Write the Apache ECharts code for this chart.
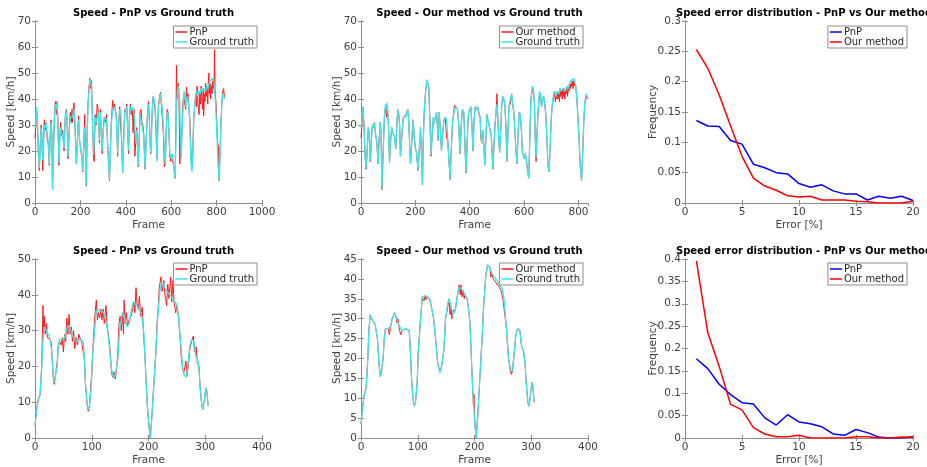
<!DOCTYPE html>
<html><head><meta charset="utf-8">
<script src="https://cdn.jsdelivr.net/npm/echarts@6/dist/echarts.min.js"></script>
<style>html,body{margin:0;padding:0;background:#fff}#c{width:927px;height:467px}</style>
</head><body><div id="c"></div>
<script>
// ---------------- DATA ----------------
// Top row: sequence 1 (frame, speed km/h)
const gtTop = [[0,29],[4,33],[7,37],[11,30],[15,18],[19,13.5],[23,21],[27,29],[30,27],[34,16.5],[38,24],[42,30],[46,29],[49,31],[53,27],[58,24],[63,15],[67,25],[71,31],[74,26],[77,5],[81,18],[86,33],[90,38],[94,36],[97,38.5],[101,30],[105,15.5],[109,24],[113,29],[117,27],[122,26],[128,21],[132,30],[135,36],[139,34],[142,30],[145,18],[149,24],[153,30],[156,33],[160,33.5],[165,33],[169,35],[172,36],[176,31],[179,22],[182,15],[186,22],[189,28],[192,32],[196,25],[200,21],[204,19.5],[207,16],[210,12.5],[214,20],[219,29],[222,20],[226,7],[229,24],[233,36],[237,42],[242,47.5],[246,46],[249,45],[253,33],[258,18.5],[262,27],[265,33],[269,31],[274,33],[278,35],[281,30],[284,24],[288,35],[292,28],[296,20],[300,26],[305,32],[310,33],[315,32],[319,25],[323,17],[328,9],[332,20],[336,30],[339,33],[344,36],[350,37],[355,36],[359,31],[364,19],[368,29],[373,36],[378,35],[382,24],[386,11.5],[390,22],[393,30],[396,35],[400,36],[404,37],[408,30],[412,20],[416,32],[420,37],[425,36],[429,37],[434,37],[438,33],[441,27],[444,23],[448,28],[452,22],[455,14.5],[459,24],[463,34],[467,32],[471,30],[475,30],[479,26],[482,20],[485,13],[489,22],[493,30],[497,35],[500,38],[504,31],[507,24],[510,19.5],[514,28],[517,36],[521,41],[525,40],[529,38],[533,30],[537,16],[541,28],[544,37],[549,40],[554,42],[558,38],[562,35],[566,28],[570,20],[574,15],[578,27],[582,35],[586,34],[590,28],[594,19],[598,18],[601,17],[605,19],[609,16],[613,12],[617,9.5],[621,25],[625,40],[630,45],[634,44],[638,38],[641,25],[644,17.5],[648,28],[652,36],[656,43],[660,42],[664,37],[668,40],[672,41],[676,38],[680,34],[684,24],[688,14],[692,12],[696,22],[700,33],[704,38],[708,42],[712,43],[717,41],[722,43],[727,42],[732,44],[737,43],[742,44],[747,44],[752,43],[757,45],[762,44],[767,46],[772,47],[777,47.5],[782,48],[786,47],[790,45],[794,40],[798,33],[802,25],[806,15],[811,8.5],[815,18],[819,30],[823,38],[827,42],[831,41],[835,40]];
const pnpTop = [[0,25],[4,30],[7,36],[11,31],[15,19],[19,12.5],[23,22],[27,30],[30,26],[34,12.5],[38,25],[41,32],[46,28],[49,31],[53,25],[58,23],[63,14.5],[67,27],[71,32],[74,27],[77,5.5],[81,20],[86,35],[90,39],[94,34],[97,39],[101,32],[105,14.5],[109,25],[113,31],[117,26],[122,28],[128,20],[132,31],[135,35],[139,36],[142,29],[145,17],[149,25],[153,32],[156,35],[160,31],[163,36],[165,31],[169,37],[172,38.5],[176,30],[179,23],[182,15],[186,23],[189,29],[192,33.5],[196,24],[200,22],[204,19],[207,17],[210,12],[214,21],[219,34],[222,21],[226,6.5],[229,25],[233,37],[237,44],[242,48],[246,44],[249,47],[253,31],[258,17],[261,16],[265,34],[269,30],[274,38],[278,36],[281,29],[284,23],[288,36],[292,27],[296,19],[300,28],[305,33],[310,31],[315,34],[319,24],[323,18],[328,8.5],[332,21],[336,31],[339,35],[342,39.5],[346,36],[350,38],[355,35],[359,33],[364,18],[368,30],[373,37],[378,36.5],[382,23],[386,11.5],[390,23],[393,31],[396,36],[400,35],[404,38],[408,29],[412,19],[416,33],[420,38],[425,34],[429,36],[432,27],[436,36],[440,18],[444,24],[448,29],[452,21],[455,14],[459,25],[463,35],[467,36],[471,31],[475,30],[479,27],[482,19],[485,13],[489,23],[493,31],[497,36],[500,39],[504,32],[507,23],[510,19],[514,30],[517,37],[521,41],[525,41],[529,36],[533,28],[537,17],[541,30],[544,38],[549,41],[553,42.5],[558,36],[562,36],[566,26],[570,14],[574,16],[578,28],[582,36],[586,35],[590,27],[594,18],[598,16],[601,18.5],[605,18],[609,15],[613,13],[617,9.5],[621,30],[623,53],[626,40],[630,46],[634,43],[638,15],[641,26],[644,18],[648,30],[652,39],[656,41],[660,38],[664,36],[667,44.5],[670,40],[674,42],[678,37],[682,32],[686,22],[690,13.5],[694,15],[698,30],[702,36],[705,39],[708,41],[711,37],[714,45],[717,40],[720,36],[723,34],[726,43],[729,38],[732,45],[735,40],[738,36],[741,44],[743,33.5],[746,42],[749,39],[752,46],[755,41],[758,44],[761,38],[764,47],[766,50],[768,42],[771,46],[774,40],[777,45],[780,42],[783,47],[786,44],[789,46],[791,59],[793,44],[796,40],[799,36],[802,28],[805,23],[808,22],[811,8.5],[815,19],[819,31],[823,38],[827,43],[831,44],[835,40]];
const ourTop = [[0,25],[4,31],[7,37],[11,30],[15,18],[19,13],[23,21],[27,29],[30,27],[34,16],[38,24],[42,30],[46,29],[49,31],[53,27],[58,23.5],[63,15],[67,25],[71,31],[74,26],[77,5],[81,18],[86,33],[90,37],[94,33],[97,37],[101,30],[105,15.5],[109,24],[113,29],[117,27],[122,26],[128,21],[132,30],[135,36],[139,34],[142,30],[145,18],[149,24],[153,30],[156,33],[160,33],[163,32.5],[165,34],[169,35],[172,36],[176,31],[179,22],[182,15],[186,22],[189,28],[192,32],[196,25],[200,21],[204,19.5],[207,16],[210,12.5],[214,20],[219,29],[222,20],[226,7],[229,24],[233,36],[237,42],[242,47],[246,46],[249,45],[253,33],[258,18],[262,27],[265,30],[269,31],[274,33],[278,35],[281,29],[284,24],[288,35],[292,28],[296,20],[300,26],[305,32],[310,33],[315,25],[319,24],[323,17],[328,9],[332,20],[336,30],[339,33],[344,37.5],[350,37],[355,36],[359,31],[364,19],[368,29],[373,36],[378,35],[382,24],[386,11.5],[390,22],[393,30],[396,35],[400,36],[404,37],[408,30],[412,20],[416,32],[420,37],[425,36],[429,37],[434,34],[438,33],[441,25],[444,23],[448,28],[452,22],[455,14.5],[459,24],[463,34],[467,32],[471,30],[475,30],[479,26],[482,20],[485,13],[489,22],[493,30],[497,35],[500,42],[504,31],[507,24],[510,19.5],[514,28],[517,36],[521,41],[525,40],[529,38],[533,30],[537,16],[541,28],[544,37],[549,38],[554,42],[558,38],[562,35],[566,28],[570,20],[574,15],[578,27],[582,35],[586,34],[590,28],[594,19],[598,18],[601,17],[605,19],[609,16],[613,12],[617,9.5],[621,25],[625,40],[630,43],[634,44],[638,38],[641,25],[644,16],[648,28],[652,36],[656,41],[660,42],[664,37],[668,40],[672,41],[676,38],[680,34],[684,24],[688,14],[692,12],[696,22],[700,33],[704,38],[708,40],[712,43],[715,39],[717,41],[720,40],[722,43],[725,40],[727,42],[730,39],[732,44],[735,41],[737,43],[740,40],[742,44],[745,41],[747,44],[750,40],[752,43],[755,42],[757,45],[760,41],[762,44],[765,43],[767,46],[770,44],[772,46],[775,45],[777,47],[780,44],[782,47],[784,45],[786,46],[790,45],[794,40],[798,33],[802,25],[806,15],[811,8.5],[815,18],[819,30],[823,38],[827,40],[831,41],[835,40]];

// Bottom row: sequence 2 (frame, speed km/h)
const gtBot = [[0,3.5],[3,8],[6,11],[9,12.5],[12,20],[14,27],[16,31],[21,29.5],[25,28.5],[27,28],[29,25],[32,18],[34,15.5],[36,16],[39,20],[41,25],[43,27.5],[48,27.5],[52,28],[55,30],[59,31.5],[62,30.5],[65,29],[68,28],[72,27],[75,27],[79,27.5],[82,28],[85,27],[87,22],[89,15],[92,9.5],[94,8],[96,9],[99,14],[101,22],[105,30],[108,35.5],[113,35.8],[117,35.5],[121,35],[124,33],[128,30],[132,24],[135,19],[139,16.5],[142,18],[146,22],[149,30],[153,34],[155,35],[159,33],[162,31],[166,32],[169,35],[173,38],[176,38.5],[180,37],[183,36],[187,35],[189,33],[192,29],[194,22],[196,15],[198,9],[201,3],[203,0],[206,6],[209,14],[213,24],[216,33],[220,41],[223,43.5],[227,43],[230,41.5],[235,40.5],[240,39.5],[244,38.5],[249,37.5],[252,35],[256,28],[260,20],[263,17.5],[267,17],[269,20],[273,26],[276,27.5],[280,27],[283,23],[287,21.5],[289,19],[291,14],[294,9],[296,8],[298,10],[301,14],[303,13],[305,9]];
const pnpBot = [[0,3.5],[3,8],[6,11],[9,12],[12,21],[14,37],[15,30],[16,34],[18,29],[20,32],[22,28],[25,28.5],[27,27.5],[29,26],[32,17],[34,15],[36,15.5],[39,21],[41,26],[43,27],[46,26],[48,28],[50,24],[52,29],[54,27],[56,33.5],[58,29],[60,34.5],[62,29],[64,31],[66,27],[68,30],[70,25],[72,28],[75,26],[77,29],[79,28],[82,27],[85,27],[87,22],[89,15],[92,9],[94,7.5],[96,9],[99,16],[100,17.5],[102,25],[105,33],[108,38.5],[110,33],[112,35],[114,33.5],[116,36],[118,33],[120,36],[122,32],[125,37],[127,31.5],[130,28],[132,25],[135,18],[137,17],[139,18.5],[141,16.5],[143,18],[146,24],[148,32],[150,34],[152,30],[154,35],[156,29],[157,38.5],[159,32],[161,35],[163,31],[166,33],[169,34],[172,36],[174,38],[176,35],[178,42],[180,37],[182,36],[184,39.5],[186,34],[189,36.5],[191,30],[194,22],[196,15],[198,9],[201,3],[203,0],[206,6],[209,14],[213,24],[215,32],[217,36],[219,42],[222,45],[224,41],[227,44],[229,40],[232,37],[234,43],[236,39],[239,45],[241,38],[243,44],[245,38],[248,35],[250,37],[253,34],[256,27],[258,22],[260,19.5],[262,18],[264,17.5],[266,21.5],[268,17.5],[270,20],[273,25],[276,27],[279,28.5],[281,24],[284,25.5],[286,21],[289,20],[291,14],[294,9],[296,8],[298,10],[301,14],[303,13],[305,9]];
const ourBot = [[0,3.5],[3,8],[6,11],[9,12.5],[12,20],[14,27],[16,31],[18,30],[21,29.5],[25,28.5],[27,28],[29,25],[32,18],[34,15.5],[36,16.5],[39,20],[41,25],[43,27.5],[45,27],[48,27.5],[50,26],[52,28],[55,30],[59,31.5],[62,30.5],[63,29],[65,30],[68,27],[70,26],[72,27],[75,26.5],[79,27.5],[82,28],[85,27],[87,22],[89,15],[92,9.5],[94,8],[96,9],[99,14],[101,22],[105,30],[108,35.5],[111,34.5],[113,35.8],[115,34.8],[117,35.5],[121,35],[124,33],[128,30],[132,24],[135,19],[139,16.5],[142,18],[146,22],[149,30],[153,33],[155,35],[157,31],[159,33],[160,30],[162,32],[166,32],[169,35],[173,38.5],[175,36],[176,38.5],[178,35.5],[180,37],[182,35],[183,36],[187,35],[189,33],[192,29],[194,22],[196,15],[198,8.5],[199,11],[201,3],[203,0],[206,6],[209,14],[213,24],[216,33],[220,41],[223,43.5],[227,43],[229,40.5],[230,41.5],[233,40],[235,40.5],[238,39],[240,39.5],[243,38],[244,38.5],[247,37],[249,37.5],[250,35],[252,35],[256,28],[260,20],[263,17],[265,16],[267,17],[269,20],[273,26],[276,27.5],[280,27],[283,23],[286,22],[287,21.5],[289,19],[291,14],[294,9],[296,8],[298,10],[301,14],[303,13],[305,9]];

// Error distributions (Error [%] bins, frequency)
const errBins = [1,2,3,4,5,6,7,8,9,10,11,12,13,14,15,16,17,18,19,20];
const pnpErrTop = [0.136,0.127,0.126,0.103,0.097,0.064,0.058,0.050,0.048,0.032,0.026,0.030,0.020,0.015,0.015,0.005,0.011,0.008,0.011,0.004];
const ourErrTop = [0.253,0.222,0.178,0.127,0.077,0.041,0.028,0.021,0.012,0.010,0.011,0.005,0.005,0.005,0.003,0.002,0.000,0.000,0.000,0.003];
const pnpErrBot = [0.177,0.155,0.120,0.097,0.079,0.076,0.045,0.029,0.052,0.036,0.032,0.025,0.009,0.006,0.019,0.012,0.002,0.000,0.000,0.003];
const ourErrBot = [0.396,0.235,0.160,0.075,0.063,0.023,0.009,0.003,0.003,0.006,0.000,0.000,0.000,0.000,0.003,0.003,0.000,0.000,0.002,0.001];

const titles = ['Speed - PnP vs Ground truth','Speed - Our method vs Ground truth','Speed error distribution - PnP vs Our method',
                'Speed - PnP vs Ground truth','Speed - Our method vs Ground truth','Speed error distribution - PnP vs Our method'];

// ---------------- LAYOUT ----------------
const FONT = 'DejaVu Sans';
const AX = '#8c8c8c', TXT = '#404040';
const grids = [
  {left:35, top:21, width:227, height:182},
  {left:361, top:21, width:227, height:182},
  {left:685, top:21, width:228, height:182},
  {left:35, top:259, width:227, height:182},
  {left:361, top:259, width:227, height:182},
  {left:685, top:259, width:228, height:182}
];
const xCfg = [
  {min:0,max:1000,interval:200,name:'Frame'},
  {min:0,max:835,interval:200,name:'Frame',hideMax:true},
  {min:0,max:20,interval:5,name:'Error [%]'},
  {min:0,max:400,interval:100,name:'Frame'},
  {min:0,max:400,interval:100,name:'Frame'},
  {min:0,max:20,interval:5,name:'Error [%]'}
];
const yCfg = [
  {min:0,max:70,interval:10,name:'Speed [km/h]',gap:18},
  {min:0,max:70,interval:10,name:'Speed [km/h]',gap:18},
  {min:0,max:0.3,interval:0.05,name:'Frequency',gap:26},
  {min:0,max:50,interval:10,name:'Speed [km/h]',gap:18},
  {min:0,max:45,interval:5,name:'Speed [km/h]',gap:18},
  {min:0,max:0.4,interval:0.05,name:'Frequency',gap:26}
];

const xAxis = [], yAxis = [], title = [];
grids.forEach((g, i) => {
  const xc = xCfg[i], yc = yCfg[i];
  const common = {type:'value', gridIndex:i, splitLine:{show:false},
    axisLine:{show:true, lineStyle:{color:AX, width:1}},
    axisTick:{show:true, inside:true, length:3, lineStyle:{color:AX}}};
  xAxis.push(Object.assign({}, common, {position:'bottom', min:xc.min, max:xc.max, interval:xc.interval,
    name:xc.name, nameLocation:'middle', nameGap:17,
    nameTextStyle:{fontFamily:FONT, fontSize:10.5, color:TXT},
    axisLabel:{fontFamily:FONT, fontSize:10.5, color:TXT, margin:4, formatter: v => String(v),
      showMaxLabel: xc.hideMax ? false : true}}));
  xAxis.push(Object.assign({}, common, {position:'top', min:xc.min, max:xc.max, interval:xc.interval, axisLabel:{show:false}}));
  yAxis.push(Object.assign({}, common, {position:'left', min:yc.min, max:yc.max, interval:yc.interval,
    name:yc.name, nameLocation:'middle', nameGap:yc.gap, nameMoveOverlap:false,
    nameTextStyle:{fontFamily:FONT, fontSize:10.5, color:TXT},
    axisLabel:{fontFamily:FONT, fontSize:10.5, color:TXT, margin:4}}));
  yAxis.push(Object.assign({}, common, {position:'right', min:yc.min, max:yc.max, interval:yc.interval, axisLabel:{show:false}}));
  title.push({text:titles[i], left:g.left + g.width/2, top: g.top - 18, textAlign:'center',
    textStyle:{fontFamily:FONT, fontSize:10, fontWeight:'bold', color:'#000'}});
});

function lineSeries(name, idx, data, color, width, z) {
  return {type:'line', name:name, xAxisIndex:2*idx, yAxisIndex:2*idx, data:data,
    symbol:'none', showSymbol:false, smooth:false, animation:false, z:z,
    lineStyle:{color:color, width:width}, itemStyle:{color:color}};
}
const RED = '#ff1a1a', CYAN = '#3de6ec', BLUE = '#0000ff', RED2 = '#ff0000';
const series = [
  lineSeries('PnP#0', 0, pnpTop, RED, 1, 2),
  lineSeries('Ground truth#0', 0, gtTop, CYAN, 1.3, 3),
  lineSeries('Our method#1', 1, ourTop, RED, 1, 2),
  lineSeries('Ground truth#1', 1, gtTop, CYAN, 1.3, 3),
  lineSeries('PnP#2', 2, errBins.map((b,k)=>[b,pnpErrTop[k]]), BLUE, 1.5, 2),
  lineSeries('Our method#2', 2, errBins.map((b,k)=>[b,ourErrTop[k]]), RED2, 1.5, 3),
  lineSeries('PnP#3', 3, pnpBot, RED, 1, 2),
  lineSeries('Ground truth#3', 3, gtBot, CYAN, 1.3, 3),
  lineSeries('Our method#4', 4, ourBot, RED, 1, 2),
  lineSeries('Ground truth#4', 4, gtBot, CYAN, 1.3, 3),
  lineSeries('PnP#5', 5, errBins.map((b,k)=>[b,pnpErrBot[k]]), BLUE, 1.5, 2),
  lineSeries('Our method#5', 5, errBins.map((b,k)=>[b,ourErrBot[k]]), RED2, 1.5, 3)
];

const legendNames = [['PnP#0','Ground truth#0'],['Our method#1','Ground truth#1'],['PnP#2','Our method#2'],
                     ['PnP#3','Ground truth#3'],['Our method#4','Ground truth#4'],['PnP#5','Our method#5']];
const legendPos = [{right:670, top:26},{right:344, top:26},{right:20, top:26},
                   {right:670, top:263},{right:344, top:263},{right:20, top:263}];
const legend = legendNames.map((names, i) => Object.assign({
  orient:'vertical', data:names, formatter: n => n.split('#')[0],
  icon:'rect', itemWidth:12, itemHeight:1.5, itemGap:0, padding:[1,3,1,2],
  backgroundColor:'#fff', borderColor:'#8c8c8c', borderWidth:1, borderRadius:0,
  selectedMode:false, textStyle:{fontFamily:FONT, fontSize:10, color:'#262626', padding:[0,0,0,-3]}
}, legendPos[i]));

const chart = echarts.init(document.getElementById('c'), null, {renderer:'canvas'});
chart.setOption({animation:false, backgroundColor:'#fff', title, grid:grids, xAxis, yAxis, legend, series});
</script></body></html>
